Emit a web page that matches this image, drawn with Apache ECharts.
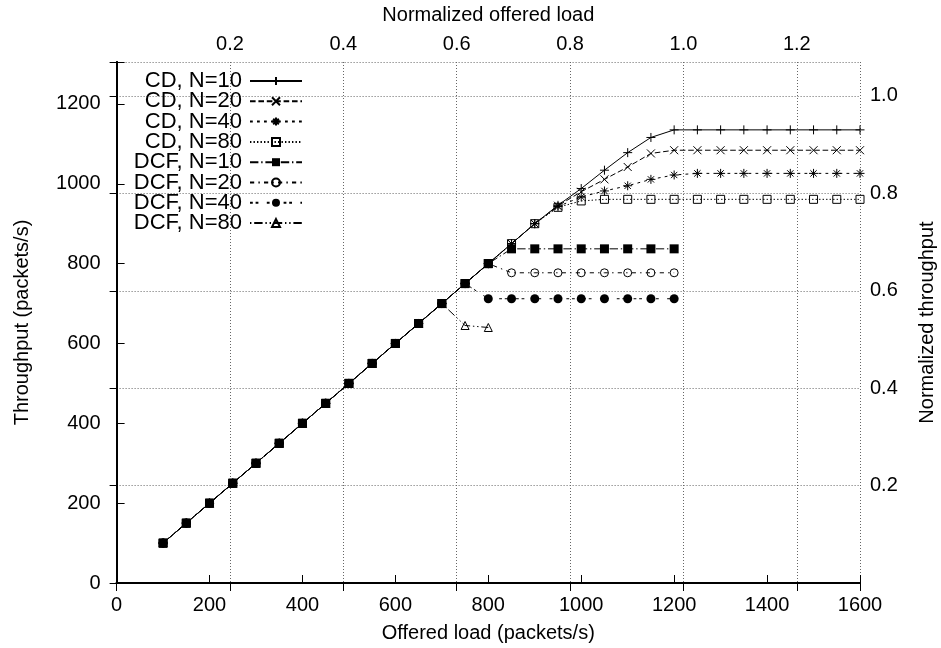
<!DOCTYPE html>
<html><head><meta charset="utf-8">
<script src="https://cdn.jsdelivr.net/npm/echarts@6/dist/echarts.min.js"></script>
<style>html,body{margin:0;padding:0;background:#fff}#c{width:941px;height:648px}</style>
</head><body><div id="c"></div>
<script>
// ---- data ----
const loadsCD = [100,150,200,250,300,350,400,450,500,550,600,650,700,750,800,850,900,950,1000,1050,1100,1150,1200,1250,1300,1350,1400,1450,1500,1550,1600];
const loadsDCF = [100,150,200,250,300,350,400,450,500,550,600,650,700,750,800,850,900,950,1000,1050,1100,1150,1200];
const loadsDCF80 = [100,150,200,250,300,350,400,450,500,550,600,650,700,750,800];
const cdN10 = [100,150,200,250,300,350,400,450,500,550,600,650,700,750,800,850,900,946,988,1034,1078,1116,1135,1135,1135,1135,1135,1135,1135,1135,1135];
const cdN20 = [100,150,200,250,300,350,400,450,500,550,600,650,700,750,800,850,900,945,980,1011,1042,1076,1084,1084,1084,1084,1084,1084,1084,1084,1084];
const cdN40 = [100,150,200,250,300,350,400,450,500,550,600,650,700,750,800,850,900,943,967,982,995,1011,1022,1026,1026,1026,1026,1026,1026,1026,1026];
const cdN80 = [100,150,200,250,300,350,400,450,500,550,600,650,700,750,800,850,900,941,957,961,961,961,961,961,961,961,961,961,961,961,961];
const dcfN10 = [100,150,200,250,300,350,400,450,500,550,600,650,700,750,800,837,837,837,837,837,837,837,837];
const dcfN20 = [100,150,200,250,300,350,400,450,500,550,600,650,700,750,800,777,777,777,777,777,777,777,777];
const dcfN40 = [100,150,200,250,300,350,400,450,500,550,600,650,700,750,712,712,712,712,712,712,712,712,712];
const dcfN80 = [100,150,200,250,300,350,400,450,500,550,600,650,700,645,640];
const capacity = 1220; // packets/s corresponding to normalized 1.0
const xMax = 1600, yMax = 1305;
const xTicks = [0,200,400,600,800,1000,1200,1400,1600];
const yTicks = [0,200,400,600,800,1000,1200];
const x2Ticks = ['0.2','0.4','0.6','0.8','1.0','1.2'];
const y2Ticks = ['0.2','0.4','0.6','0.8','1.0'];

// ---- styles ----
const F = 'Liberation Sans, Arial, sans-serif';
const FS = 20;
const dl = 1.4;
const dash = a => a.map(v => v * dl);
const PLUS = 'path://M0,5L10,5M5,0L5,10';
const CROSS = 'path://M0,0L10,10M0,10L10,0';
const STAR = 'path://M0,5L10,5M5,0L5,10M1.5,1.5L8.5,8.5M1.5,8.5L8.5,1.5';
const strokeSym = {color:'#000', borderColor:'#000', borderWidth:1};
const hollow = {color:'rgba(0,0,0,0)', borderColor:'#000', borderWidth:1};
const filled = {color:'#000', borderColor:'#000', borderWidth:0};

function mk(name, xs, ys, sym, size, item, dashType){
  return {
    name, type:'line', data: xs.map((x,i)=>[x, ys[i]]),
    xAxisIndex:0, yAxisIndex:0,
    symbol: sym, symbolSize: size, showAllSymbol:true,
    itemStyle: item,
    lineStyle:{color:'#000', width:1, type: dashType},
    emphasis:{disabled:true}, z: 2
  };
}
const series = [
  mk('CD, N=10', loadsCD, cdN10, PLUS, 9, strokeSym, 'solid'),
  mk('CD, N=20', loadsCD, cdN20, CROSS, 8, strokeSym, dash([4,2])),
  mk('CD, N=40', loadsCD, cdN40, STAR, 9, strokeSym, dash([2,3])),
  mk('CD, N=80', loadsCD, cdN80, 'rect', 8, hollow, dash([1,1.5])),
  mk('DCF, N=10', loadsDCF, dcfN10, 'rect', 9, filled, dash([6,2,1,2])),
  mk('DCF, N=20', loadsDCF, dcfN20, 'circle', 8, hollow, dash([3,3,1,3])),
  mk('DCF, N=40', loadsDCF, dcfN40, 'circle', 9, filled, dash([2,2,2,6])),
  mk('DCF, N=80', loadsDCF80, dcfN80, 'triangle', 8, hollow, dash([1,2,6,2,1,2]))
];

const lbl = {color:'#000', fontFamily:F, fontSize:FS};
const axLine = {show:true, lineStyle:{color:'#000', width:2}};
const grid = {show:true, lineStyle:{color:'#666', width:1, type:[1,2]}};
const inTick = len => ({show:true, inside:true, length:len, lineStyle:{color:'#000', width:1}});

const option = {
  animation:false,
  backgroundColor:'#fff',
  textStyle:{fontFamily:F},
  grid:{left:116.6, right:81, top:62, bottom:65, containLabel:false, outerBoundsMode:'none'},
  legend:{
    orient:'vertical', align:'right', right:638, top:70, padding:0,
    itemWidth:52, itemHeight:10, itemGap:-1.7,
    textStyle:{color:'#000', fontFamily:F, fontSize:22, lineHeight:19.6, padding:[0,3,0,0]},
    data: series.map(s=>s.name)
  },
  xAxis:[
    {type:'value', position:'bottom', min:0, max:xMax, interval:200,
     axisLine:axLine, axisTick:inTick(8), splitLine:{show:false},
     axisLabel:{...lbl, margin:12, formatter:v=> xTicks.includes(v)? String(v):''},
     name:'Offered load (packets/s)', nameLocation:'middle', nameGap:40,
     nameTextStyle:{...lbl}},
    {type:'value', position:'top', min:0, max:xMax/capacity, interval:0.2,
     axisLine:axLine, axisTick:inTick(8), splitLine:grid,
     axisLabel:{...lbl, margin:8, formatter:v=>{const s=v.toFixed(1); return x2Ticks.includes(s)&&Math.abs(v*5-Math.round(v*5))<1e-6 ? s : '';}},
     name:'Normalized offered load', nameLocation:'middle', nameGap:37,
     nameTextStyle:{...lbl}},
  ],
  yAxis:[
    {type:'value', position:'left', min:0, max:yMax, interval:200,
     axisLine:axLine, axisTick:inTick(8), splitLine:{show:false},
     axisLabel:{...lbl, margin:16, formatter:v=> yTicks.includes(v)? String(v):''},
     name:'Throughput (packets/s)', nameLocation:'middle', nameGap:84,
     nameTextStyle:{...lbl}},
    {type:'value', position:'right', min:0, max:yMax/capacity, interval:0.2,
     axisLine:axLine, axisTick:inTick(7), splitLine:grid,
     axisLabel:{...lbl, margin:10, formatter:v=>{const s=v.toFixed(1); return y2Ticks.includes(s)&&Math.abs(v*5-Math.round(v*5))<1e-6 ? s : '';}},
     name:'Normalized throughput', nameLocation:'middle', nameGap:57,
     nameTextStyle:{...lbl}}
  ],
  series
};
const chart = echarts.init(document.getElementById('c'), null, {renderer:'canvas'});
chart.setOption(option);
</script></body></html>
